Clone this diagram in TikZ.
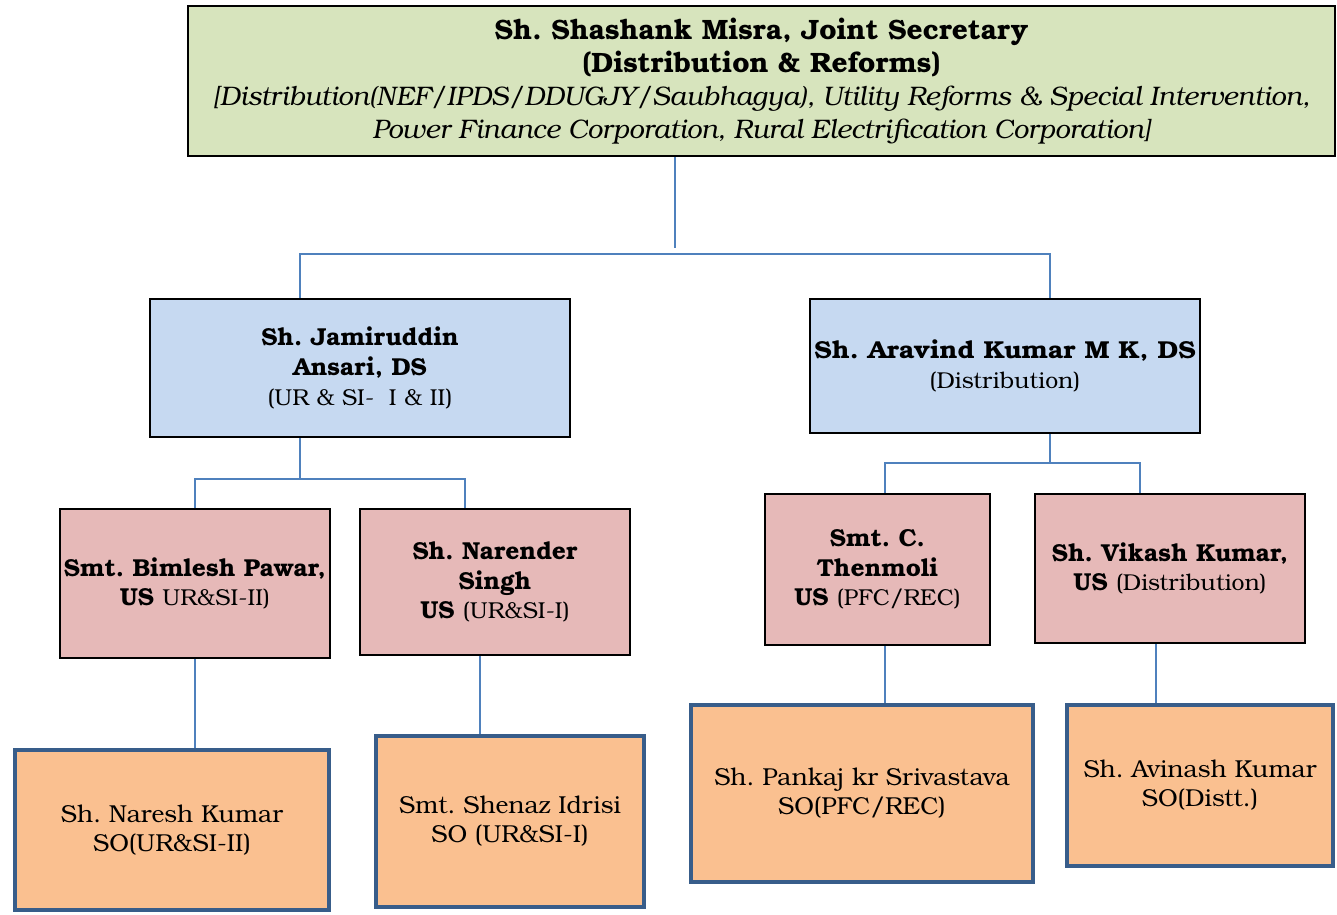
\documentclass[tikz,border=0pt]{standalone}
\usepackage{fontspec}
\setmainfont{texgyrebonum}[Extension=.otf, UprightFont=*-regular, BoldFont=*-bold, ItalicFont=*-italic, BoldItalicFont=*-bolditalic]
\definecolor{topfill}{HTML}{D7E4BD}
\definecolor{dsfill}{HTML}{C6D9F1}
\definecolor{usfill}{HTML}{E6B9B8}
\definecolor{sofill}{HTML}{FAC090}
\definecolor{soline}{HTML}{385D8A}
\definecolor{conn}{HTML}{4F81BD}
\newcommand\rgtxt[1]{{\fontsize{23}{30}\selectfont\mdseries #1}}
\newcommand\topbf[1]{{\bfseries\fontsize{28}{33}\selectfont #1}}
\newcommand\topit[1]{{\itshape\fontsize{26.8}{33}\selectfont #1}}
\tikzset{
  box/.style={draw=black, line width=2pt, inner sep=0pt, align=center},
  topbox/.style={box, fill=topfill, minimum width=1147pt, minimum height=150pt, font=\frenchspacing\fontsize{27}{33}\selectfont},
  dsbox/.style={box, fill=dsfill, font=\frenchspacing\bfseries\fontsize{24.5}{30}\selectfont},
  usbox/.style={box, fill=usfill, font=\frenchspacing\bfseries\fontsize{24.5}{29.5}\selectfont},
  sobox/.style={draw=soline, line width=4.5pt, fill=sofill, inner sep=0pt, align=center, font=\frenchspacing\fontsize{24.5}{29}\selectfont},
  link/.style={draw=conn, line width=2pt}
}
\begin{document}
\frenchspacing
\begin{tikzpicture}[x=1pt, y=-1pt]
\useasboundingbox (0,0) rectangle (1337,914);
% top
\node[topbox] (js) at (761.5,81) {\topbf{Sh. Shashank Misra, Joint Secretary}\\\topbf{(Distribution \& Reforms)}\\\topit{[Distribution(NEF/IPDS/DDUGJY/Saubhagya), Utility Reforms \& Special Intervention,}\\\topit{Power Finance Corporation, Rural Electrification Corporation]}};
% DS level
\node[dsbox, minimum width=420pt, minimum height=138pt] (jam) at (360,368) {Sh. Jamiruddin\\Ansari, DS\\\rgtxt{(UR \& SI-\ \ I \& II)}};
\node[dsbox, minimum width=390pt, minimum height=134pt] (ara) at (1005,366) {\scalebox{1.08}[1]{Sh. Aravind Kumar M K, DS}\\\rgtxt{(Distribution)}};
% US level
\node[usbox, minimum width=270pt, minimum height=149pt] (bim) at (195,583.5) {Smt. Bimlesh Pawar,\\US \rgtxt{UR\&SI-II)}};
\node[usbox, minimum width=270pt, minimum height=146pt] (nar) at (495,582) {Sh. Narender\\Singh\\US \rgtxt{(UR\&SI-I)}};
\node[usbox, minimum width=225pt, minimum height=151pt] (the) at (877.5,569.5) {Smt. C.\\Thenmoli\\US \rgtxt{(PFC/REC)}};
\node[usbox, minimum width=270pt, minimum height=149pt] (vik) at (1170,568.5) {Sh. Vikash Kumar,\\US \rgtxt{(Distribution)}};
% SO level
\node[sobox, minimum width=314pt, minimum height=160pt] (nrs) at (172,830) {Sh. Naresh Kumar\\SO(UR\&SI-II)};
\node[sobox, minimum width=268pt, minimum height=171pt] (shn) at (510,821.5) {Smt. Shenaz Idrisi\\SO (UR\&SI-I)};
\node[sobox, minimum width=342pt, minimum height=177pt] (pnk) at (862,793.5) {Sh. Pankaj kr Srivastava\\SO(PFC/REC)};
\node[sobox, minimum width=266pt, minimum height=161pt] (avi) at (1200,785.5) {Sh. Avinash Kumar\\SO(Distt.)};
% connector points
\coordinate (jsend) at (675,248);
\coordinate (hl) at (300,254);
\coordinate (hr) at (1050,254);
\coordinate (jl) at (195,479);
\coordinate (jr) at (465,479);
\coordinate (jm) at (300,479);
\coordinate (al) at (885,463);
\coordinate (ar) at (1140,463);
\coordinate (am) at (1050,463);
\coordinate (c2) at (480,0);
\coordinate (c3) at (885,0);
\coordinate (c4) at (1156,0);
% connectors
\draw[link] (js.south -| jsend) -- (jsend);
\draw[link] (hl |- jam.north) -- (hl) -- (hr) -- (hr |- ara.north);
\draw[link] (jm |- jam.south) -- (jm);
\draw[link] (jl |- bim.north) -- (jl) -- (jr) -- (jr |- nar.north);
\draw[link] (am |- ara.south) -- (am);
\draw[link] (al |- the.north) -- (al) -- (ar) -- (ar |- vik.north);
\draw[link] (bim.south) -- (nrs.north -| bim.south);
\draw[link] (c2 |- nar.south) -- (c2 |- shn.north);
\draw[link] (c3 |- the.south) -- (c3 |- pnk.north);
\draw[link] (c4 |- vik.south) -- (c4 |- avi.north);
\end{tikzpicture}
\end{document}
